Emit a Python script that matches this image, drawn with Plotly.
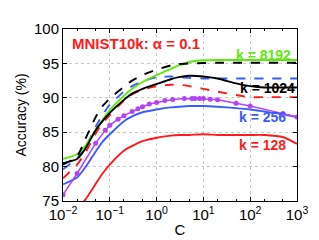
import plotly.graph_objects as go

C = [0.01, 0.02, 0.03, 0.05, 0.07, 0.1, 0.2, 0.3, 0.5, 1, 2, 3, 5, 10, 20, 50, 100, 200, 500, 1000]

k8192_dash = [80.3, 81.5, 84.0, 87.2, 88.8, 89.9, 91.6, 92.5, 93.3, 94.1, 94.7, 94.9, 95.0, 95.05, 95.1, 95.1, 95.1, 95.1, 95.1, 95.1]
k8192 = [81.1, 81.8, 83.0, 85.3, 86.8, 88.2, 90.3, 91.3, 92.3, 93.3, 94.2, 94.7, 95.2, 95.45, 95.5, 95.5, 95.5, 95.5, 95.5, 95.5]
k1024_dash = [79.6, 81.2, 82.8, 85.8, 87.5, 89.0, 90.9, 91.7, 92.4, 93.0, 93.1, 93.0, 92.9, 92.8, 92.8, 92.8, 92.8, 92.8, 92.8, 92.8]
k1024 = [80.5, 81.1, 82.6, 85.3, 86.6, 87.8, 89.7, 90.6, 91.3, 92.0, 92.7, 93.0, 93.2, 93.1, 92.8, 92.1, 91.7, 91.5, 91.5, 91.5]
k256_dash = [78.3, 80.3, 82.0, 84.8, 86.3, 87.5, 89.6, 90.5, 91.2, 91.7, 91.9, 91.9, 91.7, 91.3, 90.9, 90.4, 90.1, 90.1, 90.1, 90.1]
k256 = [77.4, 78.4, 79.9, 82.2, 83.6, 84.7, 86.6, 87.3, 87.9, 88.3, 88.6, 88.7, 88.8, 88.8, 88.7, 88.5, 88.3, 88.0, 87.6, 87.2]
k128 = [72.5, 73.8, 75.2, 77.5, 79.0, 80.3, 82.3, 83.0, 83.7, 84.2, 84.5, 84.6, 84.6, 84.7, 84.6, 84.6, 84.6, 84.6, 84.3, 83.3]

C_purple = [0.01, 0.02, 0.05, 0.08, 0.1, 0.15, 0.2, 0.3, 0.4, 0.5, 0.7, 1, 1.5, 2.2, 3.9, 5.7, 6.6, 8.3, 10, 14, 20, 50, 100, 500, 1000]
purple = [75.9, 79.0, 83.4, 85.3, 86.0, 86.9, 87.4, 88.0, 88.4, 88.7, 89.1, 89.3, 89.6, 89.75, 89.9, 89.9, 89.9, 89.9, 89.9, 89.8, 89.7, 89.2, 88.8, 87.7, 87.2]

x_ticks = [0.01, 0.1, 1, 10, 100, 1000]
x_ticktext = ["10<sup>\u22122</sup>", "10<sup>\u22121</sup>", "10<sup>0</sup>", "10<sup>1</sup>", "10<sup>2</sup>", "10<sup>3</sup>"]
y_ticks = [75, 80, 85, 90, 95, 100]

GREEN = "#5ee80e"
BLUE = "#3a5cff"
RED = "#ff1a1a"
PURPLE = "#b443f5"
BLACK = "#000000"

fig = go.Figure()

def add(y, color, dash, x=C):
    fig.add_trace(go.Scatter(x=x, y=y, mode="lines",
                             line=dict(color=color, width=1.9, dash=dash, shape="spline", smoothing=0.5),
                             showlegend=False, hoverinfo="skip"))

add(k128, RED, "solid")
add(k256, BLUE, "solid")
add(k256_dash, RED, "dash")
add(k1024_dash, BLUE, "dash")
add(k8192, GREEN, "solid")
add(k1024, BLACK, "solid")
add(k8192_dash, BLACK, "dash")

fig.add_trace(go.Scatter(x=C_purple, y=purple, mode="lines+markers",
                         line=dict(color=PURPLE, width=1.5),
                         marker=dict(color=PURPLE, size=5),
                         showlegend=False, hoverinfo="skip"))

font = "Liberation Sans, Arial, Helvetica, sans-serif"

def label(text, x, y, color, anchor="right", size=14):
    fig.add_annotation(text=f"<b>{text}</b>", xref="paper", yref="paper", x=x, y=y,
                       xanchor=anchor, yanchor="middle", showarrow=False,
                       font=dict(family=font, size=size, color=color))

label("MNIST10k: \u03b1 = 0.1", 0.03, 0.913, RED, "left", 15)
label("k = 8192", 0.985, 0.847, GREEN)
label("k = 1024", 1.0, 0.656, BLACK)
label("k = 256", 0.962, 0.486, BLUE)
label("k = 128", 0.962, 0.324, RED)

fig.update_layout(
    width=319, height=240,
    margin=dict(l=48, r=30, t=17, b=40),
    plot_bgcolor="white", paper_bgcolor="white",
    font=dict(family=font, size=14, color="black"),
)
fig.update_xaxes(type="log", range=[-2, 3], tickvals=x_ticks, ticktext=x_ticktext,
                 ticks="inside", ticklen=4, tickcolor="black",
                 showline=True, linecolor="black", linewidth=1, mirror="ticks",
                 showgrid=True, gridcolor="#c8c8c8", griddash="dot", gridwidth=1,
                 minor=dict(ticks="inside", ticklen=2, tickcolor="black", showgrid=False),
                 title=dict(text="C", standoff=2, font=dict(size=15)),
                 tickfont=dict(size=15), zeroline=False)
fig.update_yaxes(range=[75, 100], tickvals=y_ticks,
                 ticks="inside", ticklen=4, tickcolor="black",
                 showline=True, linecolor="black", linewidth=1, mirror="ticks",
                 showgrid=True, gridcolor="#c8c8c8", griddash="dot", gridwidth=1,
                 title=dict(text="Accuracy (%)", standoff=4, font=dict(size=14)),
                 tickfont=dict(size=15), zeroline=False)

fig.write_html("out.html")
